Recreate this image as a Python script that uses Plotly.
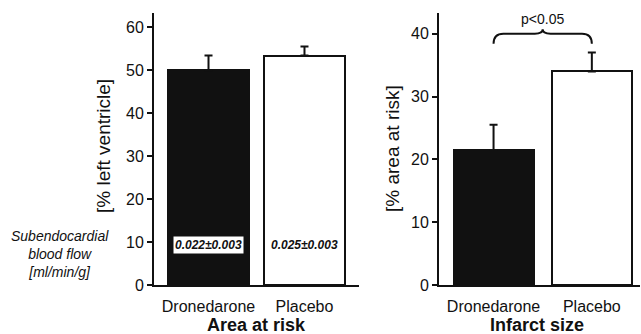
import plotly.graph_objects as go

groups = ["Dronedarone", "Placebo"]
area_at_risk = [50.0, 53.4]
area_at_risk_err = [3.4, 2.1]
infarct_size = [21.5, 34.0]
infarct_size_err = [4.0, 3.0]
blood_flow = ["0.022±0.003", "0.025±0.003"]
left_ticks = [0, 10, 20, 30, 40, 50, 60]
right_ticks = [0, 10, 20, 30, 40]
bar_fill = ["#111111", "#ffffff"]
xpos = [0, 1]

W, H = 641, 334
TOP, BOT = 13, 285
FONT = "Liberation Sans, Arial, sans-serif"
INK = "#111111"


def py(p):
    return (BOT - p) / (BOT - TOP)


fig = go.Figure()
fig.add_trace(go.Bar(
    x=xpos, y=area_at_risk, width=0.84,
    marker=dict(color=bar_fill, line=dict(color=INK, width=2)),
    error_y=dict(type="data", symmetric=False, array=area_at_risk_err,
                 arrayminus=[0, 0], color=INK, thickness=2, width=4),
    xaxis="x", yaxis="y", showlegend=False))
fig.add_trace(go.Bar(
    x=xpos, y=infarct_size, width=0.815,
    marker=dict(color=bar_fill, line=dict(color=INK, width=2)),
    error_y=dict(type="data", symmetric=False, array=infarct_size_err,
                 arrayminus=[0, 0], color=INK, thickness=2, width=4),
    xaxis="x2", yaxis="y2", showlegend=False))

axis_common = dict(showgrid=False, zeroline=False, showline=True,
                   linecolor=INK, linewidth=2, automargin=False)
ytick_font = dict(family=FONT, size=16, color=INK)
xtick_font = dict(family=FONT, size=16, color=INK)

fig.update_layout(
    width=W, height=H, plot_bgcolor="white", paper_bgcolor="white",
    margin=dict(l=0, r=0, t=TOP, b=H - BOT, autoexpand=False),
    bargap=0,
    xaxis=dict(domain=[154 / W, 359 / W], range=[-0.568, 1.568],
               tickvals=xpos, ticktext=groups, ticks="", ticklabelstandoff=6,
               tickfont=xtick_font, **axis_common),
    yaxis=dict(domain=[0, 1], range=[0, 63.3], tickvals=left_ticks,
               ticks="outside", ticklen=5, tickwidth=2, tickcolor=INK,
               tickfont=ytick_font, anchor="x", **axis_common),
    xaxis2=dict(domain=[439 / W, 640 / W], range=[-0.555, 1.49],
                tickvals=xpos, ticktext=groups, ticks="", ticklabelstandoff=6,
                tickfont=xtick_font, anchor="y2", **axis_common),
    yaxis2=dict(domain=[0, 1], range=[0, 43.3], tickvals=right_ticks,
                ticks="outside", ticklen=5, tickwidth=2, tickcolor=INK,
                tickfont=ytick_font, anchor="x2", **axis_common),
)

CM = dict(showarrow=False, xanchor="center", yanchor="middle")

# blood flow labels inside bars
fig.add_annotation(x=xpos[0], y=9.3, xref="x", yref="y", text="<b><i>" + blood_flow[0] + "</i></b>",
                   bgcolor="white", borderpad=1,
                   font=dict(family=FONT, size=12, color=INK), **CM)
fig.add_annotation(x=xpos[1], y=9.3, xref="x", yref="y", text="<b><i>" + blood_flow[1] + "</i></b>",
                   font=dict(family=FONT, size=12, color=INK), **CM)

# side label
fig.add_annotation(x=60 / W, y=py(254), xref="paper", yref="paper",
                   text="<i>Subendocardial<br>blood flow<br>[ml/min/g]</i>",
                   align="center", font=dict(family=FONT, size=14, color=INK), **CM)

# axis titles
fig.add_annotation(x=103 / W, y=py(146), xref="paper", yref="paper",
                   text="[% left ventricle]", textangle=-90,
                   font=dict(family=FONT, size=19, color=INK), **CM)
fig.add_annotation(x=392 / W, y=py(149), xref="paper", yref="paper",
                   text="[% area at risk]", textangle=-90,
                   font=dict(family=FONT, size=19, color=INK), **CM)

# panel titles
fig.add_annotation(x=256 / W, y=py(325), xref="paper", yref="paper",
                   text="<b>Area at risk</b>",
                   font=dict(family=FONT, size=18, color=INK), **CM)
fig.add_annotation(x=537 / W, y=py(325), xref="paper", yref="paper",
                   text="<b>Infarct size</b>",
                   font=dict(family=FONT, size=18, color=INK), **CM)

# significance brace
x0, x1 = xpos
xm = (x0 + x1) / 2
yb, ye, yp = 40.0, 38.4, 40.7
path = (f"M {x0},{ye} Q {x0},{yb} {x0 + 0.1},{yb} L {xm - 0.08},{yb} "
        f"Q {xm},{yb} {xm},{yp} Q {xm},{yb} {xm + 0.08},{yb} "
        f"L {x1 - 0.1},{yb} Q {x1},{yb} {x1},{ye}")
fig.add_shape(type="path", path=path, xref="x2", yref="y2",
              line=dict(color=INK, width=2))
fig.add_annotation(x=xm, y=yp, xref="x2", yref="y2", text="p<0.05",
                   showarrow=False, xanchor="center", yanchor="bottom",
                   font=dict(family=FONT, size=14, color=INK))

fig.write_html("out.html", config={"displayModeBar": False},
               post_script="document.body.style.margin='0px';document.body.style.overflow='hidden';")
